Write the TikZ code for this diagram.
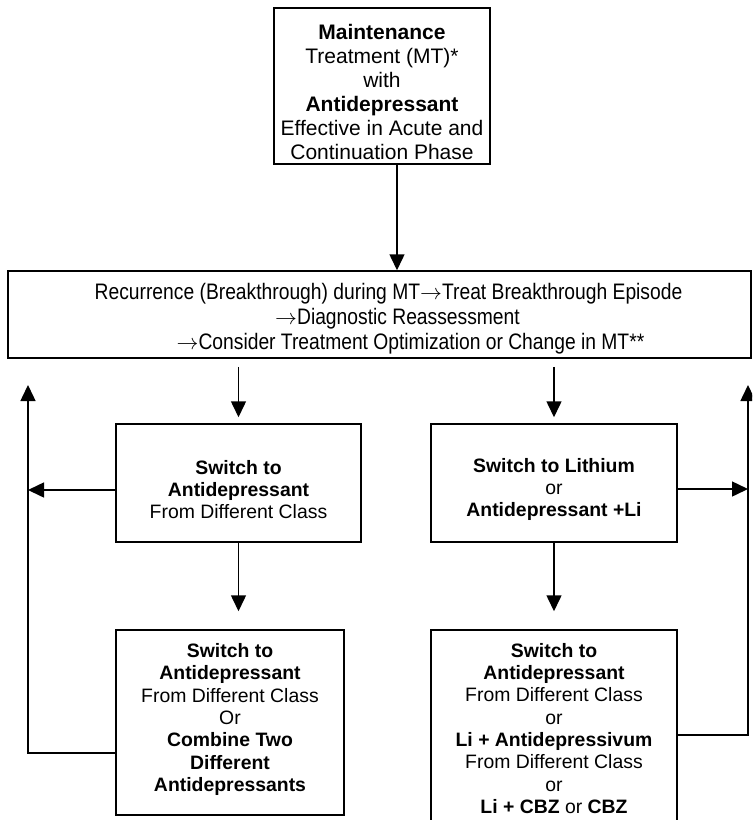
\documentclass[tikz,border=0pt]{standalone}
\usepackage{fontspec}
\setmainfont{Liberation Sans}
\newfontfamily\narrowfont[FakeStretch=0.86]{Liberation Sans}
\usetikzlibrary{arrows.meta}
\newcommand{\uplift}[1]{\rule{0pt}{#1}}
\newcommand{\downlift}[1]{\rule[-#1]{0pt}{0pt}}
\begin{document}
\begin{tikzpicture}[x=0.5pt,y=-0.5pt,
  box/.style={draw, line width=0.75pt, inner sep=0pt, align=center, font=\fontsize{9.7}{11.15}\selectfont},
  arr/.style={-{Triangle[length=8pt,width=7.5pt]}, line width=0.75pt}]
\clip (0,0) rectangle (752,820);
\node[box, minimum width=108pt, minimum height=78pt, font=\fontsize{10.5}{12}\selectfont] (top) at (382,86)
  {\uplift{13.5pt}\textbf{Maintenance}\\Treatment (MT)*\\with\\\textbf{Antidepressant}\\Effective in Acute and\\Continuation Phase};
\node[box, minimum width=371.5pt, minimum height=43.5pt, font=\narrowfont\fontsize{11.2}{12.5}\selectfont] (wide) at (379.5,314.5)
  {\uplift{12.5pt}\hspace*{9pt}Recurrence (Breakthrough) during MT$\rightarrow$Treat Breakthrough Episode\\
   \hspace*{18pt}$\rightarrow$Diagnostic Reassessment\\
   \hspace*{31pt}$\rightarrow$Consider Treatment Optimization or Change in MT**};
\node[box, minimum width=122.5pt, minimum height=59pt] (box1) at (238.5,483)
  {\uplift{13.6pt}\textbf{Switch to}\\\textbf{Antidepressant}\\From Different Class};
\node[box, minimum width=123pt, minimum height=59pt] (box2) at (554,483)
  {\uplift{13.6pt}\textbf{Switch to Lithium}\\or\\\textbf{Antidepressant +Li}};
\node[box, minimum width=114pt, minimum height=92.5pt] (box3) at (230,722.5)
  {\textbf{Switch to}\\\textbf{Antidepressant}\\From Different Class\\Or\\\textbf{Combine Two}\\\textbf{Different}\\\textbf{Antidepressants}\downlift{5pt}};
\node[box, minimum width=123pt, minimum height=98.5pt] (box4) at (554,728.5)
  {\textbf{Switch to}\\\textbf{Antidepressant}\\From Different Class\\or\\\textbf{Li + Antidepressivum}\\From Different Class\\or\\\textbf{Li + CBZ} or \textbf{CBZ}};
\coordinate (tx) at (397,0);
\coordinate (L) at (28,385);
\coordinate (R) at (748,385);
\draw[arr] (top.south -| tx) -- (wide.north -| tx);
\draw[arr, shorten <=4pt, shorten >=3pt] (wide.south -| box1.north) -- (box1.north);
\draw[arr, shorten <=4pt, shorten >=3pt] (wide.south -| box2.north) -- (box2.north);
\draw[arr, shorten >=9pt] (box1.south) -- (box1.south |- box3.north);
\draw[arr, shorten >=9pt] (box2.south) -- (box4.north);
\draw[arr] ([yshift=-3.5pt]box1.west) -- ([yshift=-3.5pt]box1.west -| L);
\draw[arr] ([yshift=-3pt]box2.east) -- ([yshift=-3pt]box2.east -| R);
\draw[arr] ([yshift=-15.25pt]box3.west) -- ([yshift=-15.25pt]box3.west -| L) -- (L);
\draw[arr] ([yshift=-3.25pt]box4.east) -- ([yshift=-3.25pt]box4.east -| R) -- (R);
\end{tikzpicture}
\end{document}
